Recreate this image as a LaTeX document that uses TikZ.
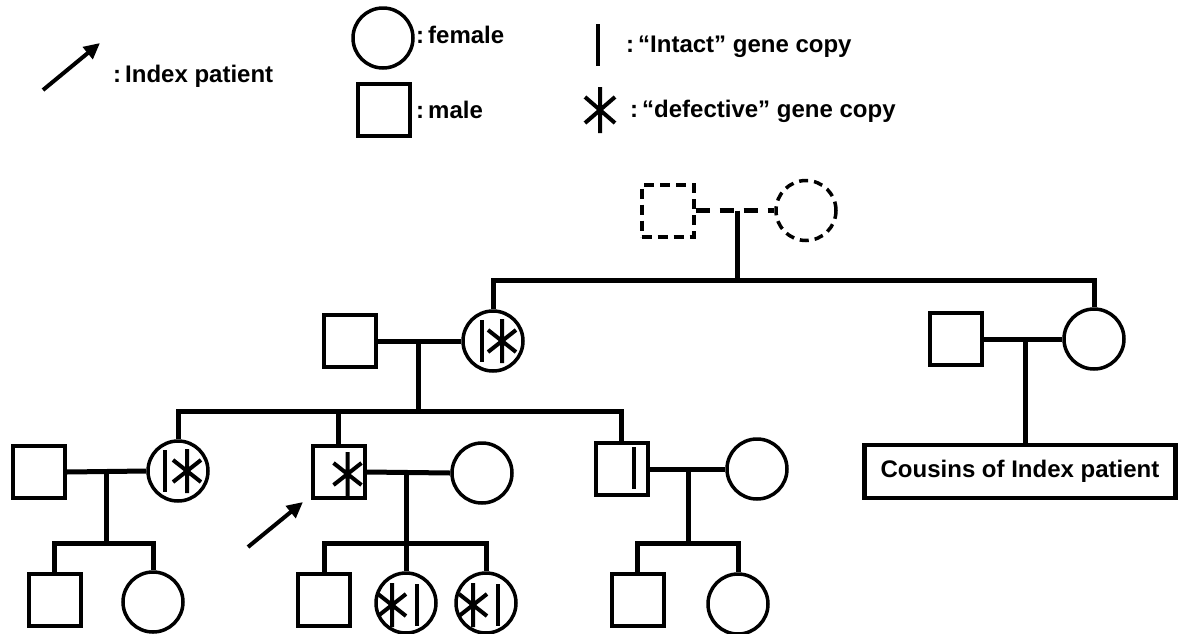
\documentclass[tikz,border=0pt]{standalone}
\usepackage{fontspec}
\setmainfont{Liberation Sans}
\usetikzlibrary{arrows.meta}
\tikzset{
  male/.style={draw,rectangle,line width=4pt,minimum size=52pt,inner sep=0pt},
  female/.style={draw,circle,line width=3.5pt,minimum size=60pt,inner sep=0pt},
  dmale/.style={male,dash pattern=on 10pt off 6pt},
  dfemale/.style={female,line width=3.5pt,dash pattern=on 9pt off 6pt},
  conn/.style={line width=5pt},
  dconn/.style={line width=5pt,dash pattern=on 14pt off 10pt},
  markline/.style={line width=4pt},
  lbl/.style={anchor=base west,inner sep=0pt,font=\fontsize{24}{28}\selectfont\bfseries},
  boxlbl/.style={draw,line width=4.5pt,minimum width=311pt,minimum height=53pt,inner sep=0pt,font=\fontsize{24}{28}\selectfont\bfseries},
  idxarrow/.style={line width=4pt,-{Triangle[length=16pt,width=15pt]}},
  genestar/.pic={\draw[markline] (0,-22)--(0,22) (-14,-11)--(14,11) (-14,11)--(14,-11);},
  genebar/.pic={\draw[markline] (0,-21)--(0,21);}
}
\begin{document}
\begin{tikzpicture}[x=1pt,y=-1pt]
\useasboundingbox (0,0) rectangle (1179,633);
% ---------- legend ----------
\coordinate (legAS) at (43,90);
\coordinate (legAE) at (100,43);
\draw[idxarrow] (legAS) -- (legAE);
\node[lbl] (tIdx) at (113,82) {:\,Index patient};
\node[female] (legF) at (383,38) {};
\node[lbl] (tFem) at (416,43) {:\,female};
\node[male] (legM) at (383.5,110) {};
\node[lbl] (tMale) at (416,118) {:\,male};
\coordinate (legBar) at (598,45);
\path (legBar) pic {genebar};
\node[lbl] (tIntact) at (626,52) {:\,“Intact” gene copy};
\coordinate (legStar) at (600,110);
\draw[markline] (600,87)--(600,133) (585,97)--(615,123) (585,123)--(615,97);
\node[lbl] (tDef) at (630,117) {:\,“defective” gene copy};
% ---------- generation I ----------
\node[dmale] (g1m) at (667.5,210.5) {};
\node[dfemale] (g1f) at (806,210.5) {};
\coordinate (j1) at (737,210.5);
\coordinate (s1) at (737,280);
\draw[dconn] (g1m.east) -- (g1f.west);
\draw[conn] (j1) -- (s1);
% ---------- generation II ----------
\node[male] (g2am) at (350,341) {};
\node[female] (g2af) at (493,341) {};
\path (g2af) ++(-11,0) pic {genebar};
\path (g2af) ++(9,0) pic {genestar};
\node[male] (g2bm) at (955.5,339) {};
\node[female] (g2bf) at (1094,339) {};
\draw[conn] (g2af.north) -- (g2af.north |- s1) -- (g2bf.north |- s1) -- (g2bf.north);
\draw[conn] (g2am.east) -- (g2af.west);
\draw[conn] (g2bm.east) -- (g2bf.west);
\coordinate (j2a) at (418,341);
\coordinate (s2a) at (418,411);
\draw[conn] (j2a) -- (s2a);
\coordinate (j2b) at (1025,339);
\node[boxlbl] (cous) at (1020,471.5) {Cousins of Index patient};
\draw[conn] (j2b) -- (j2b |- cous.north);
% ---------- generation III ----------
\node[male] (g3am) at (38.5,472) {};
\node[female] (g3af) at (178,471) {};
\path (g3af) ++(-13,0) pic {genebar};
\path (g3af) ++(9,0) pic {genestar};
\node[male] (idx) at (338.5,472) {};
\path (idx) ++(9,2) pic {genestar};
\node[female] (g3bf) at (482,473) {};
\node[male] (g3cm) at (621.5,469) {};
\path (g3cm) ++(12.5,-1) pic {genebar};
\node[female] (g3cf) at (757,469) {};
\draw[conn] (g3af.north) -- (g3af.north |- s2a) -- (g3cm.north |- s2a) -- (g3cm.north);
\draw[conn] (idx.north) -- (idx.north |- s2a);
\draw[conn] (g3am.east) -- (g3af.west);
\draw[conn] (idx.east) -- (g3bf.west);
\draw[conn] (g3cm.east) -- (g3cf.west);
\coordinate (idxAS) at (248,547);
\coordinate (idxAE) at (303,502);
\draw[idxarrow] (idxAS) -- (idxAE);
% ---------- generation IV ----------
\coordinate (j3a) at (106,472);
\coordinate (s3a) at (106,543);
\coordinate (j3b) at (406,473);
\coordinate (s3b) at (406,543);
\coordinate (j3c) at (688,469);
\coordinate (s3c) at (688,543);
\draw[conn] (j3a) -- (s3a);
\draw[conn] (j3b) -- (s3b);
\draw[conn] (j3c) -- (s3c);
\node[male] (g4a1) at (54.5,600) {};
\node[female] (g4a2) at (153,602) {};
\draw[conn] (g4a1.north) -- (g4a1.north |- s3a) -- (g4a2.north |- s3a) -- (g4a2.north);
\node[male] (g4b1) at (324,600) {};
\node[female] (g4b2) at (406,603) {};
\node[female] (g4b3) at (486,603) {};
\path (g4b2) ++(-14,2) pic {genestar};
\path (g4b2) ++(11,2) pic {genebar};
\path (g4b3) ++(-13,2) pic {genestar};
\path (g4b3) ++(12,2) pic {genebar};
\draw[conn] (g4b1.north) -- (g4b1.north |- s3b) -- (g4b3.north |- s3b) -- (g4b3.north);
\draw[conn] (g4b2.north) -- (g4b2.north |- s3b);
\node[male] (g4c1) at (637.5,600) {};
\node[female] (g4c2) at (738,604) {};
\draw[conn] (g4c1.north) -- (g4c1.north |- s3c) -- (g4c2.north |- s3c) -- (g4c2.north);
\end{tikzpicture}
\end{document}
